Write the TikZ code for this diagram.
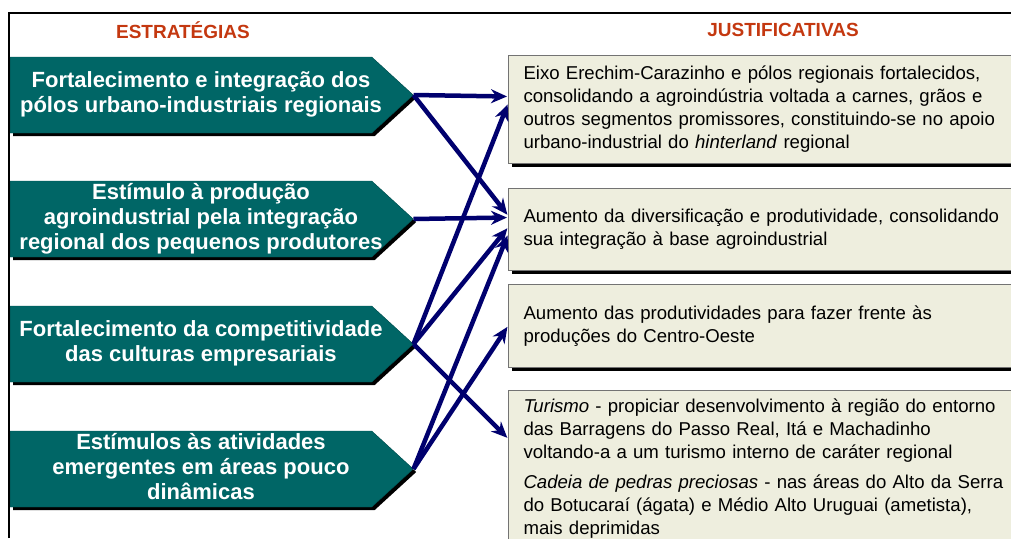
\documentclass[tikz,border=0pt]{standalone}
\usepackage{fontspec}
\setmainfont{Liberation Sans}
\usepackage{xcolor}
\definecolor{esteal}{RGB}{0,102,102}
\definecolor{esbeige}{RGB}{238,238,222}
\definecolor{esnavy}{RGB}{0,0,110}
\definecolor{esred}{RGB}{196,56,16}
\usetikzlibrary{arrows.meta,shapes.symbols,shadows}
\newcommand{\stratlines}[1]{\hspace*{20pt}\makebox[0pt]{\begin{tabular}{@{}c@{}}#1\end{tabular}}}
\tikzset{
  strat/.style={signal, signal to=east, signal pointer angle=85, fill=esteal, draw=esteal!80!black, minimum width=403pt, minimum height=76pt, inner sep=0pt, anchor=west, text=white, font=\fontsize{22}{25}\selectfont\bfseries, general shadow={fill=black, shadow xshift=3pt, shadow yshift=-3pt}},
  just/.style={rectangle, fill=esbeige, draw=black!55, line width=1pt, text width=500pt, inner xsep=15pt, anchor=north west, align=left, font=\fontsize{18.6}{23}\selectfont, general shadow={fill=black, shadow xshift=3pt, shadow yshift=-3pt}},
  link/.style={-{Stealth[length=16pt,width=14pt]}, line width=4.5pt, esnavy, shorten >=1pt},
  head/.style={font=\fontsize{19}{22}\selectfont\bfseries, text=esred}
}

\begin{document}
\begin{tikzpicture}[x=1pt, y=-1pt]
  \useasboundingbox (0,0) rectangle (1011,538);
  \clip (0,0) rectangle (1011,538);

  %% Frame
  \draw[line width=1.5pt] (9,538) -- (9,13) -- (1011,13);

  %% Headings
  \node[head] (hstrat) at (183,30) {ESTRATÉGIAS};
  \node[head] (hjust)  at (783,30) {JUSTIFICATIVAS};

  %% Strategies
  \node[strat] (strat1) at (10,95)  {\stratlines{Fortalecimento e integração dos\\pólos urbano-industriais regionais}};
  \node[strat] (strat2) at (10,219) {\stratlines{Estímulo à produção\\agroindustrial pela integração\\regional dos pequenos produtores}};
  \node[strat] (strat3) at (10,344) {\stratlines{Fortalecimento da competitividade\\das culturas empresariais}};
  \node[strat] (strat4) at (10,469) {\stratlines{Estímulos às atividades\\emergentes em áreas pouco\\dinâmicas}};

  %% Justifications
  \node[just, minimum height=108pt] (just1) at (508,55)  {Eixo Erechim-Carazinho e pólos regionais fortalecidos,\\consolidando a agroindústria voltada a carnes, grãos e\\outros segmentos promissores, constituindo-se no apoio\\urbano-industrial do \textit{hinterland} regional};
  \node[just, minimum height=82pt]  (just2) at (508,188) {Aumento da diversificação e produtividade, consolidando\\sua integração à base agroindustrial};
  \node[just, minimum height=83pt]  (just3) at (508,284) {Aumento das produtividades para fazer frente às\\produções do Centro-Oeste};
  \node[just, minimum height=156pt] (just4) at (508,390) {\textit{Turismo} - propiciar desenvolvimento à região do entorno\\das Barragens do Passo Real, Itá e Machadinho\\voltando-a a um turismo interno de caráter regional\\[7pt]\textit{Cadeia de pedras preciosas} - nas áreas do Alto da Serra\\do Botucaraí (ágata) e Médio Alto Uruguai (ametista),\\mais deprimidas};

  %% Links
  \draw[link] (strat1.east) -- ([yshift=13pt]just1.west);
  \draw[link] (strat1.east) -- ([yshift=14pt]just2.west);
  \draw[link] (strat2.east) -- ([yshift=12pt]just2.west);
  \draw[link] (strat3.east) -- ([yshift=6pt]just1.west);
  \draw[link] (strat3.east) -- ([yshift=2pt]just2.west);
  \draw[link] (strat3.east) -- ([yshift=30pt]just4.west);
  \draw[link] (strat4.east) -- ([yshift=-5pt]just2.west);
  \draw[link] (strat4.east) -- (just3.west);
\end{tikzpicture}
\end{document}
